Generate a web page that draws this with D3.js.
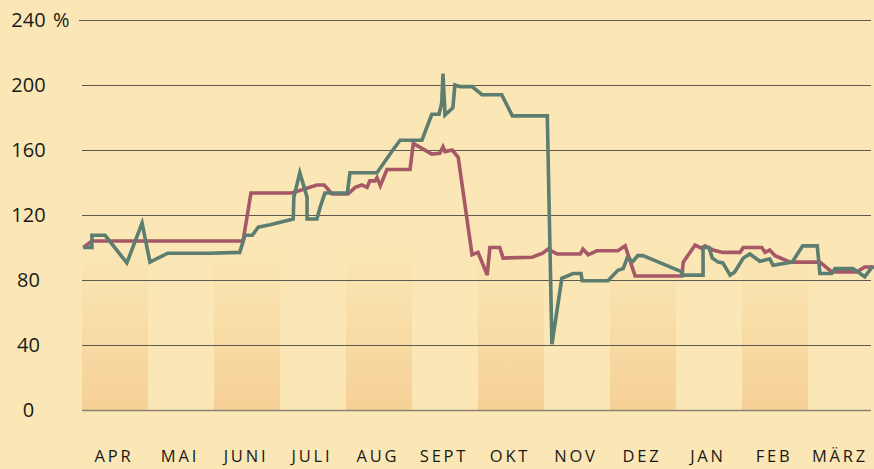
<!DOCTYPE html>
<html>
<head>
<meta charset="utf-8">
<script src="https://cdn.jsdelivr.net/npm/d3@7"></script>
<style>
  body { margin: 0; background: #fae7b5; }
  svg { display: block; }
  text { font-family: "Open Sans", "Noto Sans", sans-serif; fill: #1a1a1a; }
</style>
</head>
<body>
<svg id="chart" width="874" height="469"></svg>
<script>
// month labels (Apr .. März)
var months = ["APR", "MAI", "JUNI", "JULI", "AUG", "SEPT", "OKT", "NOV", "DEZ", "JAN", "FEB", "MÄRZ"];
var yTicks = [0, 40, 80, 120, 160, 200, 240];

// [month position (0 = start of April), percent]
var redSeries = [
  [0.02, 100], [0.15, 104], [2.44, 104], [2.56, 133.5], [3.18, 133.5], [3.56, 138.5],
  [3.67, 138.5], [3.79, 133], [4.03, 133], [4.14, 137], [4.24, 138.5], [4.32, 137],
  [4.36, 141], [4.44, 141], [4.47, 143], [4.52, 138], [4.56, 142], [4.62, 148],
  [4.97, 148], [5.02, 164], [5.30, 157.5], [5.42, 158], [5.47, 162], [5.50, 159],
  [5.61, 160], [5.70, 155.5], [5.91, 95.5], [6.00, 97], [6.14, 83], [6.18, 100],
  [6.33, 100], [6.38, 93.5], [6.82, 94], [6.98, 96.5], [7.06, 99], [7.20, 96],
  [7.55, 96], [7.59, 99], [7.67, 95.5], [7.80, 98], [8.12, 98], [8.23, 101],
  [8.38, 82.5], [9.09, 82.5], [9.11, 91], [9.29, 101.5], [9.39, 99.5], [9.44, 101],
  [9.56, 98.5], [9.71, 97], [9.97, 97], [10.02, 100], [10.30, 100], [10.35, 97],
  [10.42, 98.5], [10.50, 95], [10.73, 91], [11.18, 91], [11.36, 85], [11.74, 85],
  [11.86, 88], [12.0, 88]
];

var greenSeries = [
  [0.02, 100], [0.15, 100], [0.15, 107.5], [0.35, 107.5], [0.68, 90.5], [0.91, 115],
  [1.03, 91], [1.30, 96.5], [1.94, 96.5], [2.39, 97], [2.47, 107.5], [2.58, 107.5],
  [2.67, 112.5], [2.85, 114], [3.20, 117.5], [3.21, 131], [3.30, 146], [3.41, 131],
  [3.41, 117.5], [3.56, 117.5], [3.61, 125], [3.68, 133.5], [4.02, 133.5], [4.06, 146],
  [4.47, 146], [4.71, 160], [4.82, 166], [5.15, 166], [5.30, 182], [5.41, 182],
  [5.45, 189], [5.47, 207], [5.50, 181.5], [5.62, 186], [5.65, 200], [5.73, 199],
  [5.91, 199], [6.06, 194], [6.36, 194], [6.52, 181], [7.05, 181], [7.12, 40.5],
  [7.27, 81], [7.44, 84], [7.56, 84], [7.58, 79.5], [7.97, 79.5], [8.12, 86],
  [8.20, 87], [8.26, 93.5], [8.35, 91.5], [8.42, 95], [8.50, 95], [9.09, 85],
  [9.09, 83], [9.41, 83], [9.41, 100], [9.50, 100], [9.55, 93.5], [9.64, 91],
  [9.71, 90.5], [9.82, 83], [9.89, 85], [10.02, 93.5], [10.12, 96], [10.27, 91.5],
  [10.42, 93], [10.47, 89], [10.76, 91], [10.92, 101], [11.14, 101], [11.18, 84],
  [11.36, 84], [11.41, 87], [11.68, 87], [11.86, 82], [11.98, 88.5]
];

var svg = d3.select("#chart");
var plotLeft = 82, plotRight = 874, plotTop = 20, plotBottom = 410;

var x = d3.scaleLinear().domain([0, 12]).range([plotLeft, plotRight]);
var y = d3.scaleLinear().domain([0, 240]).range([plotBottom, plotTop]);

// gradient for the alternating month bands
var grad = svg.append("defs").append("linearGradient")
    .attr("id", "band").attr("x1", 0).attr("y1", 0).attr("x2", 0).attr("y2", 1);
grad.append("stop").attr("offset", "0%").attr("stop-color", "#fae7b5");
grad.append("stop").attr("offset", "100%").attr("stop-color", "#f6d197");

svg.append("g").selectAll("rect")
    .data(months.filter(function(d, i) { return i % 2 === 0; }))
    .enter().append("rect")
    .attr("x", function(d) { return x(months.indexOf(d)); })
    .attr("width", function(d) { return x(months.indexOf(d) + 1) - x(months.indexOf(d)); })
    .attr("y", y(100))
    .attr("height", y(0) - y(100))
    .attr("fill", "url(#band)");

// grid
svg.append("g").selectAll("line")
    .data(yTicks)
    .enter().append("line")
    .attr("x1", function(d) { return d === 240 ? 79 : plotLeft; })
    .attr("x2", 871)
    .attr("y1", function(d) { return y(d) + 0.5; })
    .attr("y2", function(d) { return y(d) + 0.5; })
    .attr("stroke", function(d) { return d === 0 ? "#8a8270" : "#5e5a4e"; })
    .attr("stroke-width", function(d) { return d === 0 ? 1.6 : 1.2; });

// y labels
svg.append("g").selectAll("text")
    .data(yTicks)
    .enter().append("text")
    .attr("x", 28.5)
    .attr("y", function(d) { return y(d) + 7; })
    .attr("text-anchor", "middle")
    .attr("font-size", 20)
    .text(function(d) { return d; });
svg.append("text")
    .attr("x", 53).attr("y", y(240) + 7)
    .attr("font-size", 20)
    .text("%");

// month labels
svg.append("g").selectAll("text")
    .data(months)
    .enter().append("text")
    .attr("x", function(d, i) { return x(i + 0.5) - 1; })
    .attr("y", 462)
    .attr("text-anchor", "middle")
    .attr("font-size", 16.5)
    .attr("letter-spacing", "2.8px")
    .text(function(d) { return d; });

var line = d3.line()
    .x(function(d) { return x(d[0]); })
    .y(function(d) { return y(d[1]); });

svg.append("path")
    .datum(redSeries)
    .attr("d", line)
    .attr("fill", "none")
    .attr("stroke", "#a65867")
    .attr("stroke-width", 3.6)
    .attr("stroke-linejoin", "miter");

svg.append("path")
    .datum(greenSeries)
    .attr("d", line)
    .attr("fill", "none")
    .attr("stroke", "#5c7d70")
    .attr("stroke-width", 3.6)
    .attr("stroke-linejoin", "miter");
</script>
</body>
</html>
